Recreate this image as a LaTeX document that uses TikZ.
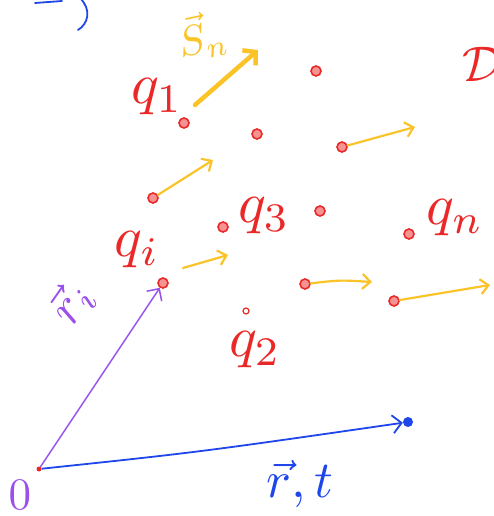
\documentclass[tikz,border=0pt]{standalone}
\usetikzlibrary{arrows.meta}
\definecolor{qred}{RGB}{235,40,40}
\definecolor{vyel}{RGB}{250,195,40}
\definecolor{rpur}{RGB}{155,80,235}
\definecolor{rblu}{RGB}{30,70,235}
\begin{document}
\begin{tikzpicture}[x=1pt,y=-1pt,
  charge/.style={circle,draw=qred,fill=qred!50,line width=1.6pt,inner sep=0pt,minimum size=10pt},
  small/.style={circle,draw=qred,line width=1.2pt,inner sep=0pt,minimum size=6pt},
  vel/.style={draw=vyel,line width=2.2pt,line cap=round,-{Straight Barb[length=8pt,width=15pt]}},
  qlab/.style={text=qred,inner sep=0pt},
  handline/.style={line width=1.8pt,line cap=round}]
\useasboundingbox (0,0) rectangle (493,516);
% "1)" fragment
\draw[rblu,handline] (35,3) -- (62,1);
\draw[rblu,handline] (80,-2) .. controls (92,10) and (88,24) .. (78,30);
% charges
\node[charge] (c1) at (184,123) {};
\node[charge] (c2) at (316,71) {};
\node[charge] (c3) at (257,134) {};
\node[charge] (c4) at (342,147) {};
\node[charge] (c5) at (153,198) {};
\node[charge] (c6) at (223,227) {};
\node[charge] (c7) at (320,211) {};
\node[charge] (c8) at (409,234) {};
\node[charge] (ci) at (163,283) {};
\node[charge] (c9) at (305,284) {};
\node[charge] (c10) at (394,301) {};
\node[small] (c2b) at (246,311) {};
\node[circle,fill=qred,inner sep=0pt,minimum size=5pt] (o) at (39,469) {};
\node[circle,fill=rblu,inner sep=0pt,minimum size=10pt] (p) at (408,422) {};
% labels
\node[qlab] (l1) at (157,97) {\scalebox{5.8}{$q_1$}};
\node[qlab] (l3) at (264,216) {\scalebox{5.8}{$q_3$}};
\node[qlab] (ln) at (455,218) {\scalebox{5.8}{$q_n$}};
\node[qlab] (li) at (137,250) {\scalebox{5.8}{$q_i$}};
\node[qlab] (l2) at (255,350) {\scalebox{5.8}{$q_2$}};
\node[qlab,anchor=west] (ld) at (462,64) {\scalebox{5}{$\mathcal{D}o$}};
% velocities
\coordinate (v1s) at (195,105); \coordinate (v1e) at (258,50);
\draw[draw=vyel,line width=4.5pt,line cap=round,-{Straight Barb[length=9pt,width=20pt]}] (v1s) -- (v1e);
\node[text=vyel,inner sep=0pt,rotate=12] (vl) at (202,36) {\scalebox{4.2}{$\vec{S}_n$}};
\coordinate (v5e) at (213,160); \draw[vel] (c5) -- (v5e);
\coordinate (v4e) at (415,127); \draw[vel] (c4) -- (v4e);
\coordinate (vis) at (183,268); \coordinate (vie) at (228,255); \draw[vel] (vis) -- (vie);
\coordinate (v9e) at (372,282); \draw[vel] (c9) .. controls (340,280) .. (v9e);
\coordinate (v10e) at (490,285); \draw[vel] (c10) -- (v10e);
% position vectors
\draw[rpur,line width=1.5pt,-{Straight Barb[length=9pt,width=18pt]}] (o) -- (ci);
\draw[rblu,line width=1.8pt,-{Straight Barb[length=9pt,width=18pt]}] (o) .. controls (200,452) .. (p);
\node[text=rpur,inner sep=0pt,rotate=55] (lri) at (72,303) {\scalebox{5}{$\vec{r}_i$}};
\node[text=rpur,inner sep=0pt] (lo) at (20,495) {\scalebox{4.5}{$0$}};
\node[text=rblu,inner sep=0pt] (lr) at (300,484) {\scalebox{5.2}{$\vec{r},t$}};
\end{tikzpicture}
\end{document}
